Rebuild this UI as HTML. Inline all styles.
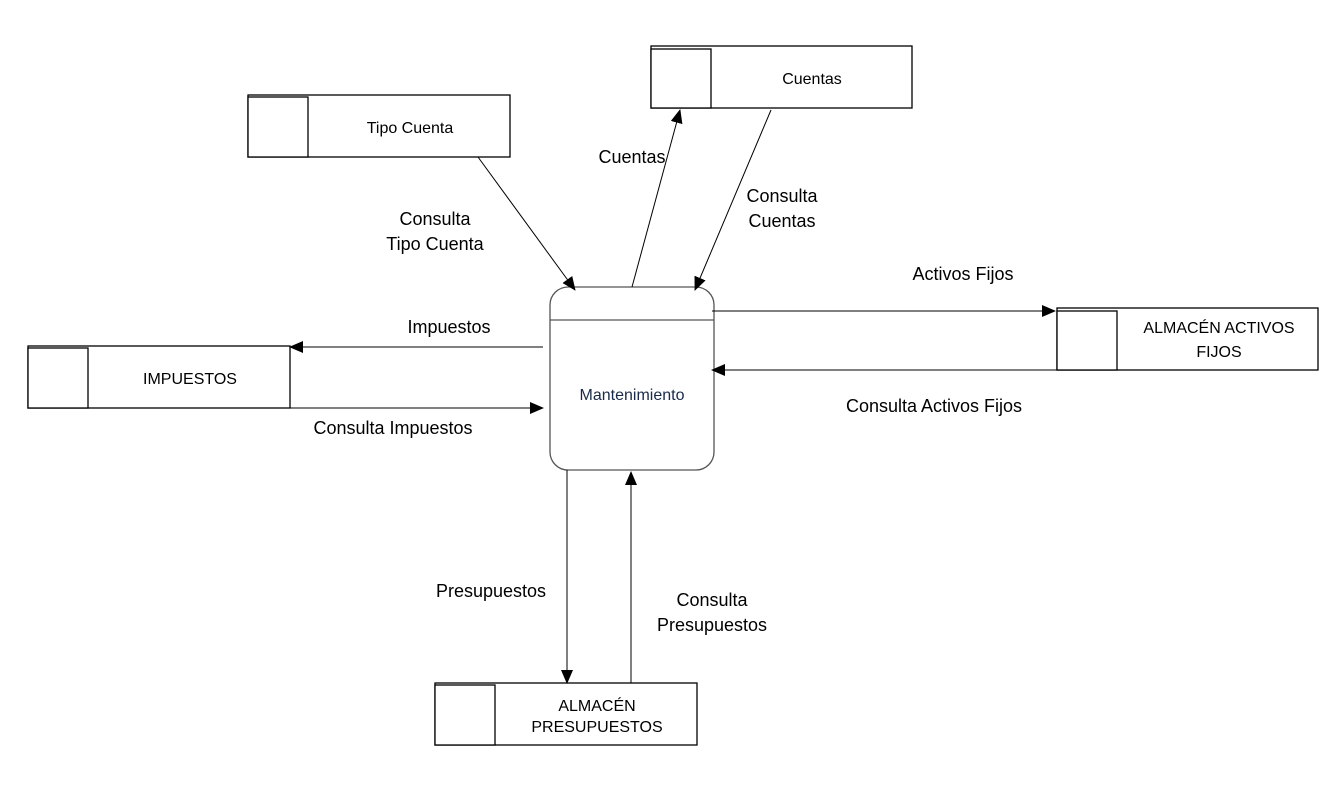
<!DOCTYPE html>
<html><head><meta charset="utf-8"><style>body{margin:0;background:#fff}</style></head><body>
<svg width="1338" height="801" xmlns="http://www.w3.org/2000/svg" font-family="Liberation Sans, sans-serif">
<defs><marker id="a" markerWidth="14" markerHeight="12" refX="13" refY="6" orient="auto" markerUnits="userSpaceOnUse"><path d="M0,0 L14,6 L0,12 z" fill="#000"/></marker></defs>
<g fill="#fff" stroke="#000" stroke-width="1.3">
<rect x="248" y="95" width="262" height="62"/><rect x="248" y="97" width="60" height="60"/>
<rect x="651" y="46" width="261" height="62"/><rect x="651" y="49" width="60" height="59"/>
<rect x="28" y="346" width="262" height="62"/><rect x="28" y="348" width="60" height="60"/>
<rect x="1057" y="308" width="261" height="62"/><rect x="1057" y="311" width="60" height="59"/>
<rect x="435" y="683" width="262" height="62"/><rect x="435" y="685" width="60" height="60"/>
<rect x="550" y="287" width="164" height="183" rx="18" stroke="#555"/>
</g>
<line x1="550" y1="320" x2="714" y2="320" stroke="#555" stroke-width="1.3"/>
<g stroke="#000" stroke-width="1" marker-end="url(#a)">
<line x1="478" y1="157" x2="575" y2="290"/>
<line x1="632" y1="287" x2="680" y2="110"/>
<line x1="771" y1="110" x2="695" y2="290"/>
<line x1="712" y1="311" x2="1055" y2="311"/>
<line x1="1057" y1="370" x2="712" y2="370"/>
<line x1="543" y1="347" x2="290" y2="347"/>
<line x1="290" y1="408" x2="543" y2="408"/>
<line x1="567" y1="470" x2="567" y2="683"/>
<line x1="631" y1="683" x2="631" y2="472"/>
</g>
<g font-size="16" text-anchor="middle" fill="#000">
<text x="410" y="133">Tipo Cuenta</text>
<text x="812" y="84">Cuentas</text>
<text x="190" y="384">IMPUESTOS</text>
<text x="1219" y="333">ALMACÉN  ACTIVOS</text>
<text x="1219" y="357">FIJOS</text>
<text x="597" y="711">ALMACÉN</text>
<text x="597" y="732">PRESUPUESTOS</text>
<text x="632" y="400" fill="#1a2a4a">Mantenimiento</text>
</g>
<g font-size="18" text-anchor="middle" fill="#000">
<text x="435" y="225">Consulta</text>
<text x="435" y="250">Tipo Cuenta</text>
<text x="632" y="163">Cuentas</text>
<text x="782" y="202">Consulta</text>
<text x="782" y="227">Cuentas</text>
<text x="963" y="280">Activos Fijos</text>
<text x="934" y="412">Consulta Activos Fijos</text>
<text x="449" y="333">Impuestos</text>
<text x="393" y="434">Consulta Impuestos</text>
<text x="491" y="597">Presupuestos</text>
<text x="712" y="606">Consulta</text>
<text x="712" y="631">Presupuestos</text>
</g>
</svg>
</body></html>
